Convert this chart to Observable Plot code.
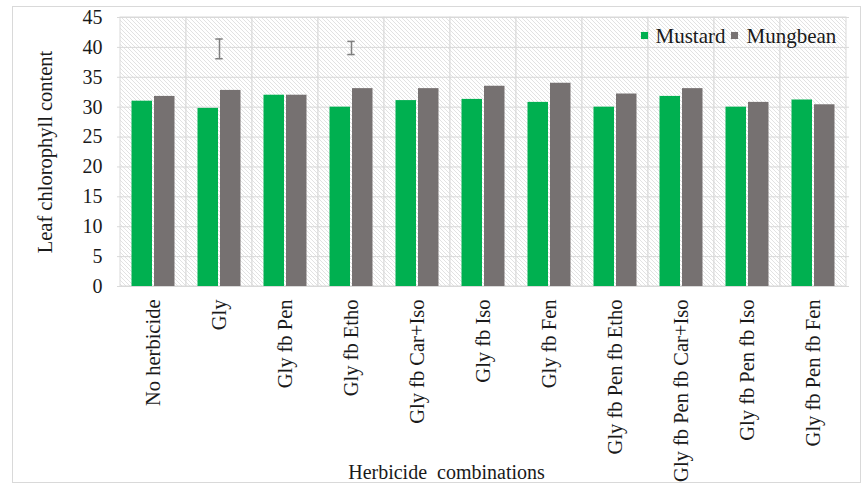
<!DOCTYPE html>
<html>
<head>
<meta charset="utf-8">
<script src="https://cdn.jsdelivr.net/npm/d3@7"></script>
<script src="https://cdn.jsdelivr.net/npm/@observablehq/plot@0.6"></script>
<style>
  html, body { margin: 0; padding: 0; background: #fff; }
  #wrap { position: relative; width: 865px; height: 485px; }
  #border { position: absolute; left: 12px; top: 6px; width: 847px; height: 475px; border: 1px solid #d9d9d9; pointer-events: none; }
  #wrap svg, #wrap svg text, #wrap svg g { font-family: "Liberation Serif", "Times New Roman", Times, "DejaVu Serif", serif !important; }
</style>
</head>
<body>
<div id="wrap"><div id="border"></div></div>
<script>
const categories = ["No herbicide", "Gly", "Gly fb Pen", "Gly fb Etho", "Gly fb Car+Iso", "Gly fb Iso", "Gly fb Fen", "Gly fb Pen fb Etho", "Gly fb Pen fb Car+Iso", "Gly fb Pen fb Iso", "Gly fb Pen fb Fen"];
const mustard  = [31.0, 29.8, 32.0, 30.0, 31.1, 31.3, 30.8, 30.0, 31.8, 30.0, 31.2];
const mungbean = [31.8, 32.8, 32.0, 33.1, 33.1, 33.5, 34.0, 32.2, 33.1, 30.8, 30.4];
const errCats = ["Gly", "Gly fb Etho"];
const errLow  = [38.1, 38.8];
const errHigh = [41.4, 41.0];
const yTicks = [0, 5, 10, 15, 20, 25, 30, 35, 40, 45];
const seriesNames = ["Mustard", "Mungbean"];
const colors = ["#00b050", "#767171"];

const rows = categories.map((c, i) => ({cat: c, mustard: mustard[i], mungbean: mungbean[i]}));
const errs = errCats.map((c, i) => ({cat: c, lo: errLow[i], hi: errHigh[i]}));
const serif = "'Liberation Serif', 'Times New Roman', Times, 'DejaVu Serif', serif";

const svg = Plot.plot({
  width: 865,
  height: 485,
  marginLeft: 117,
  marginRight: 16,
  marginTop: 17,
  marginBottom: 199,
  style: {fontFamily: serif, fontSize: "20px", color: "#1a1a1a", background: "transparent"},
  x: {type: "band", domain: categories, padding: 0, label: null},
  y: {domain: [0, 45], label: null},
  marks: [
    Plot.cell(categories, {x: d => d, fill: "url(#hatch)", stroke: "#d9d9d9", inset: 0}),
    Plot.gridY(yTicks, {stroke: "#d9d9d9", strokeOpacity: 1}),
    Plot.barY(rows, {x: "cat", y: "mustard", fill: colors[0], insetLeft: 11.5, insetRight: 34}),
    Plot.barY(rows, {x: "cat", y: "mungbean", fill: colors[1], insetLeft: 34, insetRight: 11.5}),
    Plot.ruleX(errs, {x: "cat", y1: "lo", y2: "hi", stroke: "#7f7f7f", strokeWidth: 1.5}),
    Plot.tickY(errs, {x: "cat", y: "lo", stroke: "#7f7f7f", strokeWidth: 1.5, insetLeft: 29.3, insetRight: 29.3}),
    Plot.tickY(errs, {x: "cat", y: "hi", stroke: "#7f7f7f", strokeWidth: 1.5, insetLeft: 29.3, insetRight: 29.3}),
    Plot.axisY({ticks: yTicks, tickSize: 0, tickPadding: 15, fontSize: 20, fontFamily: serif, label: null}),
    Plot.axisX({tickRotate: -90, tickSize: 0, tickPadding: 13, fontSize: 20.5, fontFamily: serif, label: null}),
    Plot.text(["Leaf chlorophyll content"], {frameAnchor: "left", text: d => d, rotate: -90, dx: -72, fontSize: 20.5, fontFamily: serif, textAnchor: "middle", lineAnchor: "middle", fill: "#1a1a1a"}),
    Plot.text(["Herbicide  combinations"], {frameAnchor: "bottom", text: d => d, dx: -37, dy: 186, fontSize: 20, fontFamily: serif, textAnchor: "middle", lineAnchor: "middle", fill: "#1a1a1a"}),
    Plot.dot([seriesNames[0]], {frameAnchor: "top-right", symbol: "square", r: 4, fill: colors[0], dx: -205, dy: 18}),
    Plot.text([seriesNames[0]], {frameAnchor: "top-right", text: d => d, dx: -194, dy: 19, textAnchor: "start", lineAnchor: "middle", fontSize: 21, fontFamily: serif, fill: "#1a1a1a"}),
    Plot.dot([seriesNames[1]], {frameAnchor: "top-right", symbol: "square", r: 4, fill: colors[1], dx: -115, dy: 18}),
    Plot.text([seriesNames[1]], {frameAnchor: "top-right", text: d => d, dx: -103, dy: 19, textAnchor: "start", lineAnchor: "middle", fontSize: 21, fontFamily: serif, fill: "#1a1a1a"})
  ]
});

d3.select(svg).insert("defs", ":first-child").html(
  '<pattern id="hatch" patternUnits="userSpaceOnUse" width="4" height="4">' +
  '<rect width="4" height="4" fill="#ffffff"/>' +
  '<path d="M0,0 L4,4 M-1,3 L1,5 M3,-1 L5,1" stroke="#e2e2e2" stroke-width="1"/>' +
  '</pattern>'
);

document.getElementById("wrap").insertBefore(svg, document.getElementById("border"));
</script>
</body>
</html>
